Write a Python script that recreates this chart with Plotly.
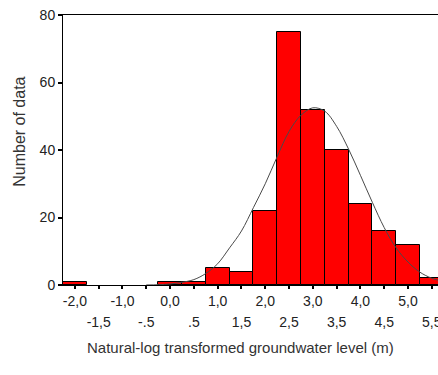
import plotly.graph_objects as go

# Histogram bins (centers, width 0.5) and counts
bin_centers = [-2.0, -1.5, -1.0, -0.5, 0.0, 0.5, 1.0, 1.5, 2.0, 2.5, 3.0, 3.5, 4.0, 4.5, 5.0, 5.5]
counts      = [1,    0,    0,    0,    1,   1,   5,   4,   22,  75,  52,  40,  24,  16,  12,  2]

# Fitted normal curve
curve_x = [-0.5, -0.25, 0.0, 0.25, 0.5, 0.75, 1.0, 1.25, 1.5, 1.75, 2.0, 2.25, 2.5, 2.75,
           3.0, 3.25, 3.5, 3.75, 4.0, 4.25, 4.5, 4.75, 5.0, 5.25, 5.5, 5.75]
curve_y = [0.02, 0.08, 0.3, 0.8, 1.6, 3.4, 6.3, 11.0, 16.0, 22.9, 30.0, 38.0, 45.5, 50.3,
           52.5, 51.5, 47.0, 40.3, 32.5, 24.5, 17.0, 11.0, 6.8, 3.8, 2.0, 1.0]

# Tick labels (two staggered rows)
row1_vals = [-2.0, -1.0, 0.0, 1.0, 2.0, 3.0, 4.0, 5.0]
row1_text = ["-2,0", "-1,0", "0,0", "1,0", "2,0", "3,0", "4,0", "5,0"]
row2_vals = [-1.5, -0.5, 0.5, 1.5, 2.5, 3.5, 4.5, 5.5]
row2_text = ["-1,5", "-.5", ".5", "1,5", "2,5", "3,5", "4,5", "5,5"]
y_ticks = [0, 20, 40, 60, 80]

x_title = "Natural-log transformed groundwater level (m)"
y_title = "Number of data"

FONT = "Liberation Sans"
TXT = "#222222"
XR = [-2.25, 5.63]

fig = go.Figure()
fig.add_trace(go.Bar(
    x=bin_centers, y=counts, width=0.5,
    marker=dict(color="#ff0000",
                line=dict(color="#000000", width=[1 if c > 0 else 0 for c in counts])),
    showlegend=False,
))
fig.add_trace(go.Scatter(
    x=curve_x, y=curve_y, mode="lines",
    line=dict(color="#4a4a4a", width=1, shape="spline"),
    showlegend=False, hoverinfo="skip",
))
fig.add_trace(go.Scatter(
    x=row2_vals, y=[None] * len(row2_vals), xaxis="x2", mode="lines",
    showlegend=False, hoverinfo="skip",
))

all_vals = sorted(row1_vals + row2_vals)
all_text = [row1_text[row1_vals.index(v)] if v in row1_vals else "" for v in all_vals]

fig.update_layout(
    width=438, height=375,
    margin=dict(l=63, r=0, t=15, b=90),
    paper_bgcolor="white", plot_bgcolor="white",
    bargap=0,
    font=dict(family=FONT, size=14, color=TXT),
    xaxis=dict(
        range=XR, showgrid=False, zeroline=False, automargin=False,
        showline=True, linecolor="black", linewidth=1, mirror=True,
        tickvals=all_vals, ticktext=all_text,
        ticks="outside", ticklen=3, tickwidth=2, tickcolor="black",
        ticklabeloverflow="allow",
        tickfont=dict(family=FONT, size=14, color=TXT),
    ),
    xaxis2=dict(
        range=XR, overlaying="x", anchor="y", side="bottom", automargin=False,
        showgrid=False, zeroline=False, showline=False,
        tickvals=row2_vals, ticktext=row2_text, ticks="",
        ticklabelstandoff=27, ticklabeloverflow="allow",
        tickfont=dict(family=FONT, size=14, color=TXT),
    ),
    yaxis=dict(
        range=[0, 80], showgrid=False, zeroline=False, automargin=False,
        showline=True, linecolor="black", linewidth=1,
        tickvals=y_ticks, ticks="outside", ticklen=4, tickwidth=2, tickcolor="black",
        tickfont=dict(family=FONT, size=14, color=TXT),
    ),
    annotations=[
        dict(text=x_title, xref="paper", yref="paper", x=0.473, y=-0.23,
             xanchor="center", yanchor="middle", showarrow=False,
             font=dict(family=FONT, size=15, color="#333333")),
        dict(text=y_title, xref="paper", yref="paper", x=-0.115, y=0.567,
             xanchor="center", yanchor="middle", showarrow=False, textangle=-90,
             font=dict(family=FONT, size=16, color="#333333")),
    ],
)

fig.write_html(
    "out.html",
    post_script=(
        "document.documentElement.style.overflow='hidden';"
        "document.body.style.overflow='hidden';"
        "document.body.style.margin='0';"
    ),
)
